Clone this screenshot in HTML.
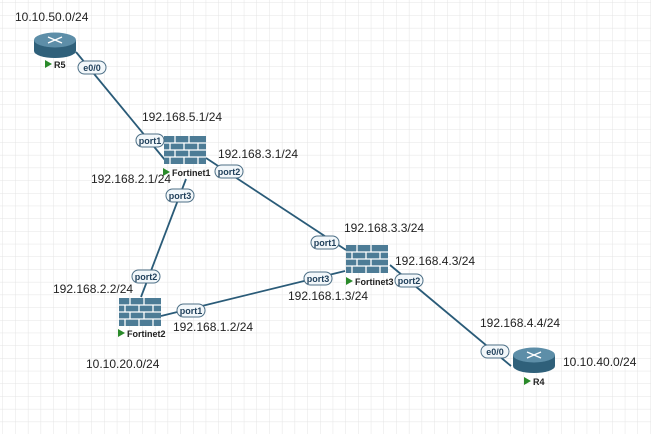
<!DOCTYPE html>
<html><head><style>
html,body{margin:0;padding:0;background:#fff}
svg{display:block}
.t{font-family:"Liberation Sans",sans-serif;font-size:12px;fill:#222}
.p{font-family:"Liberation Sans",sans-serif;font-size:9px;font-weight:bold;fill:#1f3f5a;text-anchor:middle}
.n{font-family:"Liberation Sans",sans-serif;font-size:9px;font-weight:bold;fill:#222}
</style></head><body>
<svg width="651" height="434" xmlns="http://www.w3.org/2000/svg">
<defs>
<pattern id="g" width="12.7" height="12.7" patternUnits="userSpaceOnUse" x="3" y="3">
<path d="M12.7 0V12.7H0" fill="none" stroke="#e4e4e4" stroke-width="1"/>
</pattern>
<g id="fw">
<rect x="0" y="0" width="42" height="28" fill="#4d7c96"/>
<g stroke="#fff" stroke-width="1.3">
<line x1="0" y1="7" x2="42" y2="7"/><line x1="0" y1="14" x2="42" y2="14"/><line x1="0" y1="21" x2="42" y2="21"/>
<line x1="11" y1="0" x2="11" y2="7"/><line x1="25" y1="0" x2="25" y2="7"/>
<line x1="6" y1="7" x2="6" y2="14"/><line x1="20" y1="7" x2="20" y2="14"/><line x1="34" y1="7" x2="34" y2="14"/>
<line x1="11" y1="14" x2="11" y2="21"/><line x1="25" y1="14" x2="25" y2="21"/>
<line x1="6" y1="21" x2="6" y2="28"/><line x1="20" y1="21" x2="20" y2="28"/><line x1="34" y1="21" x2="34" y2="28"/>
</g></g>
<g id="rt">
<path d="M0 8 V19 A21 7 0 0 0 42 19 V8 Z" fill="#2f607a"/>
<ellipse cx="21" cy="8" rx="21" ry="7.5" fill="#5d8ea8"/>
<g stroke="#fff" stroke-width="1.3"><line x1="14" y1="5" x2="28" y2="11"/><line x1="28" y1="5" x2="14" y2="11"/></g>
</g>
<g id="pl"><rect x="0" y="0" width="28" height="13" rx="6.5" fill="#f2f7fa" stroke="#4d6f86" stroke-width="1"/></g>
</defs>
<rect width="651" height="434" fill="url(#g)"/>
<g stroke="#2a5b78" stroke-width="1.8">
<line x1="76" y1="52" x2="165" y2="160"/>
<line x1="206" y1="158" x2="346" y2="250"/>
<line x1="186" y1="179" x2="141" y2="297"/>
<line x1="161" y1="316" x2="345" y2="271"/>
<line x1="390" y1="265" x2="511" y2="366"/>
</g>
<use href="#rt" x="34" y="32"/>
<use href="#rt" x="513" y="347"/>
<use href="#fw" x="164" y="136"/>
<use href="#fw" x="119" y="298"/>
<use href="#fw" x="346" y="245"/>
<g fill="#2a8a2a">
<path d="M45 60l7 4-7 4z"/><path d="M163 168l7 4-7 4z"/><path d="M118 329l7 4-7 4z"/><path d="M346 277l7 4-7 4z"/><path d="M524 377l7 4-7 4z"/>
</g>
<text class="n" x="54" y="68">R5</text>
<text class="n" x="172" y="176">Fortinet1</text>
<text class="n" x="127" y="337">Fortinet2</text>
<text class="n" x="355" y="285">Fortinet3</text>
<text class="n" x="533" y="385">R4</text>
<use href="#pl" x="78" y="61"/><text class="p" x="92" y="71">e0/0</text>
<use href="#pl" x="136" y="134"/><text class="p" x="150" y="144">port1</text>
<use href="#pl" x="215" y="165"/><text class="p" x="229" y="175">port2</text>
<use href="#pl" x="166" y="189"/><text class="p" x="180" y="199">port3</text>
<use href="#pl" x="132" y="270"/><text class="p" x="146" y="280">port2</text>
<use href="#pl" x="177" y="304"/><text class="p" x="191" y="314">port1</text>
<use href="#pl" x="311" y="236"/><text class="p" x="325" y="246">port1</text>
<use href="#pl" x="304" y="272"/><text class="p" x="318" y="282">port3</text>
<use href="#pl" x="395" y="274"/><text class="p" x="409" y="284">port2</text>
<use href="#pl" x="481" y="345"/><text class="p" x="495" y="355">e0/0</text>
<text class="t" x="15" y="21">10.10.50.0/24</text>
<text class="t" x="142" y="121">192.168.5.1/24</text>
<text class="t" x="218" y="158">192.168.3.1/24</text>
<text class="t" x="91" y="183">192.168.2.1/24</text>
<text class="t" x="344" y="232">192.168.3.3/24</text>
<text class="t" x="395" y="265">192.168.4.3/24</text>
<text class="t" x="288" y="300">192.168.1.3/24</text>
<text class="t" x="53" y="293">192.168.2.2/24</text>
<text class="t" x="173" y="331">192.168.1.2/24</text>
<text class="t" x="86" y="368">10.10.20.0/24</text>
<text class="t" x="480" y="327">192.168.4.4/24</text>
<text class="t" x="563" y="366">10.10.40.0/24</text>
</svg>
</body></html>
